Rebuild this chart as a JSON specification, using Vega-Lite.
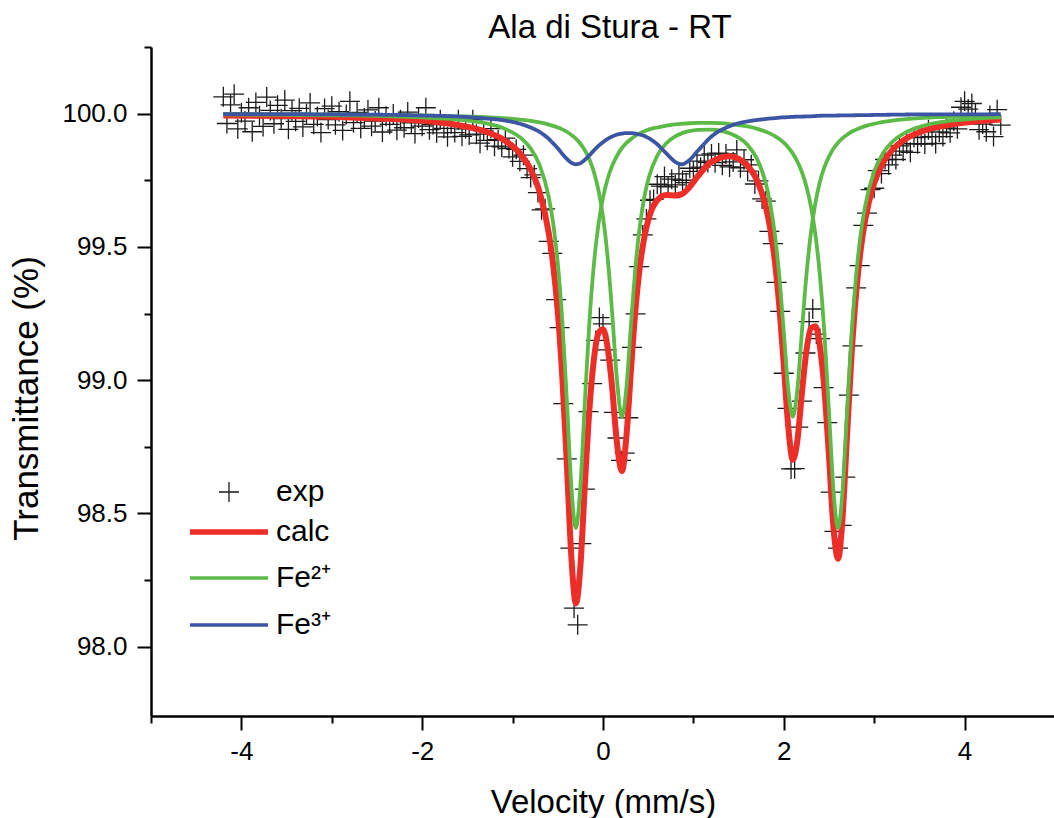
{
"$schema":"https://vega.github.io/schema/vega-lite/v6.json",
"width":904,"height":669,
"autosize":{"type":"none"},
"padding":{"left":151,"top":47,"right":0,"bottom":102},
"background":"white",
"config":{"view":{"stroke":null},"font":"Liberation Sans, Arial, Noto Sans, DejaVu Sans",
 "legend":{"orient":"none","title":null,"padding":0,"labelFontSize":30,"labelColor":"#000","labelFont":"Liberation Sans, Arial, Noto Sans, DejaVu Sans"}},
"title":{"text":"Ala di Stura - RT","fontSize":33,"fontWeight":"normal","color":"#000","anchor":"middle","frame":"group","dx":7,"dy":15,"offset":4,"font":"Liberation Sans, Arial, Noto Sans, DejaVu Sans"},
"datasets":{
"exp":[
{"v":-4.20,"t":100.063,"c":"exp"},{"v":-4.16,"t":99.963,"c":"exp"},{"v":-4.12,"t":100.033,"c":"exp"},{"v":-4.08,"t":100.073,"c":"exp"},{"v":-4.04,"t":99.943,"c":"exp"},{"v":-4.00,"t":100.003,"c":"exp"},{"v":-3.96,"t":99.972,"c":"exp"},{"v":-3.92,"t":100.022,"c":"exp"},{"v":-3.88,"t":99.932,"c":"exp"},{"v":-3.84,"t":100.042,"c":"exp"},
{"v":-3.80,"t":99.992,"c":"exp"},{"v":-3.76,"t":99.952,"c":"exp"},{"v":-3.72,"t":100.062,"c":"exp"},{"v":-3.68,"t":100.012,"c":"exp"},{"v":-3.64,"t":99.962,"c":"exp"},{"v":-3.60,"t":100.031,"c":"exp"},{"v":-3.56,"t":99.981,"c":"exp"},{"v":-3.52,"t":100.051,"c":"exp"},{"v":-3.48,"t":99.941,"c":"exp"},{"v":-3.44,"t":100.011,"c":"exp"},
{"v":-3.40,"t":99.971,"c":"exp"},{"v":-3.36,"t":100.020,"c":"exp"},{"v":-3.32,"t":99.950,"c":"exp"},{"v":-3.28,"t":100.000,"c":"exp"},{"v":-3.24,"t":100.040,"c":"exp"},{"v":-3.20,"t":99.960,"c":"exp"},{"v":-3.16,"t":99.989,"c":"exp"},{"v":-3.12,"t":99.929,"c":"exp"},{"v":-3.08,"t":100.019,"c":"exp"},{"v":-3.04,"t":99.978,"c":"exp"},
{"v":-3.00,"t":100.028,"c":"exp"},{"v":-2.96,"t":99.958,"c":"exp"},{"v":-2.92,"t":100.007,"c":"exp"},{"v":-2.88,"t":99.937,"c":"exp"},{"v":-2.84,"t":99.997,"c":"exp"},{"v":-2.80,"t":100.046,"c":"exp"},{"v":-2.76,"t":99.966,"c":"exp"},{"v":-2.72,"t":100.005,"c":"exp"},{"v":-2.68,"t":99.945,"c":"exp"},{"v":-2.64,"t":99.984,"c":"exp"},
{"v":-2.60,"t":100.014,"c":"exp"},{"v":-2.56,"t":99.953,"c":"exp"},{"v":-2.52,"t":99.972,"c":"exp"},{"v":-2.48,"t":100.022,"c":"exp"},{"v":-2.44,"t":99.931,"c":"exp"},{"v":-2.40,"t":99.990,"c":"exp"},{"v":-2.36,"t":99.960,"c":"exp"},{"v":-2.32,"t":99.999,"c":"exp"},{"v":-2.28,"t":99.938,"c":"exp"},{"v":-2.24,"t":99.977,"c":"exp"},
{"v":-2.20,"t":99.947,"c":"exp"},{"v":-2.16,"t":100.006,"c":"exp"},{"v":-2.12,"t":99.965,"c":"exp"},{"v":-2.08,"t":99.925,"c":"exp"},{"v":-2.04,"t":99.984,"c":"exp"},{"v":-2.00,"t":99.953,"c":"exp"},{"v":-1.96,"t":100.022,"c":"exp"},{"v":-1.92,"t":99.940,"c":"exp"},{"v":-1.88,"t":99.959,"c":"exp"},{"v":-1.84,"t":99.928,"c":"exp"},
{"v":-1.80,"t":99.977,"c":"exp"},{"v":-1.76,"t":99.945,"c":"exp"},{"v":-1.72,"t":99.913,"c":"exp"},{"v":-1.68,"t":99.961,"c":"exp"},{"v":-1.64,"t":99.929,"c":"exp"},{"v":-1.60,"t":99.977,"c":"exp"},{"v":-1.56,"t":99.915,"c":"exp"},{"v":-1.52,"t":99.943,"c":"exp"},{"v":-1.48,"t":99.920,"c":"exp"},{"v":-1.44,"t":99.977,"c":"exp"},
{"v":-1.40,"t":99.923,"c":"exp"},{"v":-1.36,"t":99.889,"c":"exp"},{"v":-1.32,"t":99.935,"c":"exp"},{"v":-1.28,"t":99.900,"c":"exp"},{"v":-1.24,"t":99.944,"c":"exp"},{"v":-1.20,"t":99.878,"c":"exp"},{"v":-1.16,"t":99.902,"c":"exp"},{"v":-1.12,"t":99.875,"c":"exp"},{"v":-1.08,"t":99.908,"c":"exp"},{"v":-1.04,"t":99.869,"c":"exp"},
{"v":-1.00,"t":99.838,"c":"exp"},{"v":-0.96,"t":99.866,"c":"exp"},{"v":-0.92,"t":99.821,"c":"exp"},{"v":-0.88,"t":99.844,"c":"exp"},{"v":-0.84,"t":99.794,"c":"exp"},{"v":-0.80,"t":99.760,"c":"exp"},{"v":-0.76,"t":99.770,"c":"exp"},{"v":-0.72,"t":99.704,"c":"exp"},{"v":-0.68,"t":99.639,"c":"exp"},{"v":-0.64,"t":99.643,"c":"exp"},
{"v":-0.60,"t":99.521,"c":"exp"},{"v":-0.56,"t":99.476,"c":"exp"},{"v":-0.52,"t":99.302,"c":"exp"},{"v":-0.48,"t":99.197,"c":"exp"},{"v":-0.44,"t":98.912,"c":"exp"},{"v":-0.40,"t":98.705,"c":"exp"},{"v":-0.36,"t":98.370,"c":"exp"},{"v":-0.32,"t":98.145,"c":"exp"},{"v":-0.28,"t":98.082,"c":"exp"},{"v":-0.24,"t":98.387,"c":"exp"},
{"v":-0.20,"t":98.591,"c":"exp"},{"v":-0.16,"t":98.882,"c":"exp"},{"v":-0.12,"t":98.987,"c":"exp"},{"v":-0.08,"t":99.149,"c":"exp"},{"v":-0.04,"t":99.235,"c":"exp"},{"v":0.00,"t":99.211,"c":"exp"},{"v":0.04,"t":99.114,"c":"exp"},{"v":0.08,"t":99.075,"c":"exp"},{"v":0.12,"t":98.879,"c":"exp"},{"v":0.16,"t":98.783,"c":"exp"},
{"v":0.20,"t":98.699,"c":"exp"},{"v":0.24,"t":98.726,"c":"exp"},{"v":0.28,"t":98.859,"c":"exp"},{"v":0.32,"t":99.123,"c":"exp"},{"v":0.36,"t":99.249,"c":"exp"},{"v":0.40,"t":99.426,"c":"exp"},{"v":0.44,"t":99.545,"c":"exp"},{"v":0.48,"t":99.605,"c":"exp"},{"v":0.52,"t":99.675,"c":"exp"},{"v":0.56,"t":99.678,"c":"exp"},
{"v":0.60,"t":99.735,"c":"exp"},{"v":0.64,"t":99.728,"c":"exp"},{"v":0.68,"t":99.764,"c":"exp"},{"v":0.72,"t":99.725,"c":"exp"},{"v":0.76,"t":99.754,"c":"exp"},{"v":0.80,"t":99.733,"c":"exp"},{"v":0.84,"t":99.774,"c":"exp"},{"v":0.88,"t":99.750,"c":"exp"},{"v":0.92,"t":99.741,"c":"exp"},{"v":0.96,"t":99.795,"c":"exp"},
{"v":1.00,"t":99.783,"c":"exp"},{"v":1.04,"t":99.822,"c":"exp"},{"v":1.08,"t":99.799,"c":"exp"},{"v":1.12,"t":99.844,"c":"exp"},{"v":1.16,"t":99.817,"c":"exp"},{"v":1.20,"t":99.849,"c":"exp"},{"v":1.24,"t":99.816,"c":"exp"},{"v":1.28,"t":99.852,"c":"exp"},{"v":1.32,"t":99.806,"c":"exp"},{"v":1.36,"t":99.849,"c":"exp"},
{"v":1.40,"t":99.800,"c":"exp"},{"v":1.44,"t":99.819,"c":"exp"},{"v":1.48,"t":99.864,"c":"exp"},{"v":1.52,"t":99.797,"c":"exp"},{"v":1.56,"t":99.827,"c":"exp"},{"v":1.60,"t":99.784,"c":"exp"},{"v":1.64,"t":99.808,"c":"exp"},{"v":1.68,"t":99.736,"c":"exp"},{"v":1.72,"t":99.748,"c":"exp"},{"v":1.76,"t":99.680,"c":"exp"},
{"v":1.80,"t":99.672,"c":"exp"},{"v":1.84,"t":99.558,"c":"exp"},{"v":1.88,"t":99.512,"c":"exp"},{"v":1.92,"t":99.367,"c":"exp"},{"v":1.96,"t":99.258,"c":"exp"},{"v":2.00,"t":99.026,"c":"exp"},{"v":2.04,"t":98.894,"c":"exp"},{"v":2.08,"t":98.667,"c":"exp"},{"v":2.12,"t":98.668,"c":"exp"},{"v":2.16,"t":98.824,"c":"exp"},
{"v":2.20,"t":98.921,"c":"exp"},{"v":2.24,"t":99.102,"c":"exp"},{"v":2.28,"t":99.220,"c":"exp"},{"v":2.32,"t":99.267,"c":"exp"},{"v":2.36,"t":99.173,"c":"exp"},{"v":2.40,"t":99.156,"c":"exp"},{"v":2.44,"t":98.972,"c":"exp"},{"v":2.48,"t":98.841,"c":"exp"},{"v":2.52,"t":98.580,"c":"exp"},{"v":2.56,"t":98.433,"c":"exp"},
{"v":2.60,"t":98.370,"c":"exp"},{"v":2.64,"t":98.455,"c":"exp"},{"v":2.68,"t":98.636,"c":"exp"},{"v":2.72,"t":98.944,"c":"exp"},{"v":2.76,"t":99.129,"c":"exp"},{"v":2.80,"t":99.346,"c":"exp"},{"v":2.84,"t":99.430,"c":"exp"},{"v":2.88,"t":99.581,"c":"exp"},{"v":2.92,"t":99.627,"c":"exp"},{"v":2.96,"t":99.715,"c":"exp"},
{"v":3.00,"t":99.720,"c":"exp"},{"v":3.04,"t":99.786,"c":"exp"},{"v":3.08,"t":99.775,"c":"exp"},{"v":3.12,"t":99.828,"c":"exp"},{"v":3.16,"t":99.808,"c":"exp"},{"v":3.20,"t":99.844,"c":"exp"},{"v":3.24,"t":99.828,"c":"exp"},{"v":3.28,"t":99.879,"c":"exp"},{"v":3.32,"t":99.859,"c":"exp"},{"v":3.36,"t":99.887,"c":"exp"},
{"v":3.40,"t":99.855,"c":"exp"},{"v":3.44,"t":99.910,"c":"exp"},{"v":3.48,"t":99.887,"c":"exp"},{"v":3.52,"t":99.912,"c":"exp"},{"v":3.56,"t":99.886,"c":"exp"},{"v":3.60,"t":99.940,"c":"exp"},{"v":3.64,"t":99.914,"c":"exp"},{"v":3.68,"t":99.888,"c":"exp"},{"v":3.72,"t":99.931,"c":"exp"},{"v":3.76,"t":99.914,"c":"exp"},
{"v":3.80,"t":99.946,"c":"exp"},{"v":3.84,"t":99.928,"c":"exp"},{"v":3.88,"t":99.971,"c":"exp"},{"v":3.92,"t":99.943,"c":"exp"},{"v":3.96,"t":100.024,"c":"exp"},{"v":4.00,"t":100.046,"c":"exp"},{"v":4.04,"t":100.017,"c":"exp"},{"v":4.08,"t":100.038,"c":"exp"},{"v":4.12,"t":99.999,"c":"exp"},{"v":4.16,"t":99.940,"c":"exp"},
{"v":4.20,"t":99.961,"c":"exp"},{"v":4.24,"t":99.932,"c":"exp"},{"v":4.28,"t":99.993,"c":"exp"},{"v":4.32,"t":99.914,"c":"exp"},{"v":4.36,"t":100.015,"c":"exp"},{"v":4.40,"t":99.957,"c":"exp"}
],
"calc":[
{"v":-4.2,"t":99.993,"c":"calc"},{"v":-3.5,"t":99.991,"c":"calc"},{"v":-3.0,"t":99.988,"c":"calc"},{"v":-2.5,"t":99.982,"c":"calc"},{"v":-2.0,"t":99.973,"c":"calc"},{"v":-1.6,"t":99.957,"c":"calc"},{"v":-1.3,"t":99.933,"c":"calc"},{"v":-1.1,"t":99.902,"c":"calc"},{"v":-0.9,"t":99.843,"c":"calc"},{"v":-0.8,"t":99.790,"c":"calc"},
{"v":-0.7,"t":99.704,"c":"calc"},{"v":-0.6,"t":99.551,"c":"calc"},{"v":-0.55,"t":99.429,"c":"calc"},{"v":-0.5,"t":99.256,"c":"calc"},{"v":-0.45,"t":99.011,"c":"calc"},{"v":-0.4,"t":98.685,"c":"calc"},{"v":-0.35,"t":98.337,"c":"calc"},{"v":-0.3,"t":98.162,"c":"calc"},{"v":-0.25,"t":98.302,"c":"calc"},{"v":-0.2,"t":98.611,"c":"calc"},
{"v":-0.15,"t":98.892,"c":"calc"},{"v":-0.1,"t":99.080,"c":"calc"},{"v":-0.05,"t":99.176,"c":"calc"},{"v":0.0,"t":99.191,"c":"calc"},{"v":0.05,"t":99.125,"c":"calc"},{"v":0.1,"t":98.977,"c":"calc"},{"v":0.15,"t":98.779,"c":"calc"},{"v":0.21,"t":98.659,"c":"calc"},{"v":0.26,"t":98.793,"c":"calc"},{"v":0.31,"t":99.042,"c":"calc"},
{"v":0.36,"t":99.269,"c":"calc"},{"v":0.41,"t":99.432,"c":"calc"},{"v":0.46,"t":99.541,"c":"calc"},{"v":0.51,"t":99.612,"c":"calc"},{"v":0.6,"t":99.675,"c":"calc"},{"v":0.7,"t":99.695,"c":"calc"},{"v":0.8,"t":99.693,"c":"calc"},{"v":0.87,"t":99.698,"c":"calc"},{"v":0.95,"t":99.721,"c":"calc"},{"v":1.05,"t":99.766,"c":"calc"},
{"v":1.2,"t":99.819,"c":"calc"},{"v":1.4,"t":99.840,"c":"calc"},{"v":1.6,"t":99.804,"c":"calc"},{"v":1.7,"t":99.753,"c":"calc"},{"v":1.8,"t":99.652,"c":"calc"},{"v":1.85,"t":99.569,"c":"calc"},{"v":1.9,"t":99.449,"c":"calc"},{"v":1.95,"t":99.279,"c":"calc"},{"v":2.0,"t":99.056,"c":"calc"},{"v":2.05,"t":98.823,"c":"calc"},
{"v":2.1,"t":98.701,"c":"calc"},{"v":2.15,"t":98.773,"c":"calc"},{"v":2.2,"t":98.951,"c":"calc"},{"v":2.25,"t":99.109,"c":"calc"},{"v":2.3,"t":99.195,"c":"calc"},{"v":2.35,"t":99.202,"c":"calc"},{"v":2.4,"t":99.126,"c":"calc"},{"v":2.45,"t":98.962,"c":"calc"},{"v":2.5,"t":98.713,"c":"calc"},{"v":2.55,"t":98.445,"c":"calc"},
{"v":2.6,"t":98.330,"c":"calc"},{"v":2.65,"t":98.485,"c":"calc"},{"v":2.7,"t":98.796,"c":"calc"},{"v":2.75,"t":99.097,"c":"calc"},{"v":2.8,"t":99.326,"c":"calc"},{"v":2.85,"t":99.488,"c":"calc"},{"v":2.9,"t":99.601,"c":"calc"},{"v":3.0,"t":99.740,"c":"calc"},{"v":3.1,"t":99.817,"c":"calc"},{"v":3.2,"t":99.864,"c":"calc"},
{"v":3.35,"t":99.906,"c":"calc"},{"v":3.5,"t":99.930,"c":"calc"},{"v":3.7,"t":99.950,"c":"calc"},{"v":3.9,"t":99.962,"c":"calc"},{"v":4.15,"t":99.971,"c":"calc"},{"v":4.4,"t":99.978,"c":"calc"}
],
"fe2":[
{"v":-4.2,"t":99.997,"s":"A","c":"Fe²⁺"},{"v":-3.5,"t":99.996,"s":"A","c":"Fe²⁺"},{"v":-3.0,"t":99.994,"s":"A","c":"Fe²⁺"},{"v":-2.5,"t":99.992,"s":"A","c":"Fe²⁺"},{"v":-2.0,"t":99.986,"s":"A","c":"Fe²⁺"},{"v":-1.6,"t":99.978,"s":"A","c":"Fe²⁺"},{"v":-1.3,"t":99.964,"s":"A","c":"Fe²⁺"},{"v":-1.1,"t":99.945,"s":"A","c":"Fe²⁺"},{"v":-0.9,"t":99.906,"s":"A","c":"Fe²⁺"},{"v":-0.8,"t":99.869,"s":"A","c":"Fe²⁺"},
{"v":-0.7,"t":99.806,"s":"A","c":"Fe²⁺"},{"v":-0.6,"t":99.687,"s":"A","c":"Fe²⁺"},{"v":-0.55,"t":99.586,"s":"A","c":"Fe²⁺"},{"v":-0.5,"t":99.438,"s":"A","c":"Fe²⁺"},{"v":-0.45,"t":99.221,"s":"A","c":"Fe²⁺"},{"v":-0.4,"t":98.923,"s":"A","c":"Fe²⁺"},{"v":-0.35,"t":98.601,"s":"A","c":"Fe²⁺"},{"v":-0.3,"t":98.446,"s":"A","c":"Fe²⁺"},{"v":-0.25,"t":98.601,"s":"A","c":"Fe²⁺"},{"v":-0.2,"t":98.923,"s":"A","c":"Fe²⁺"},
{"v":-0.15,"t":99.220,"s":"A","c":"Fe²⁺"},{"v":-0.1,"t":99.437,"s":"A","c":"Fe²⁺"},{"v":-0.05,"t":99.585,"s":"A","c":"Fe²⁺"},{"v":0.0,"t":99.685,"s":"A","c":"Fe²⁺"},{"v":0.05,"t":99.754,"s":"A","c":"Fe²⁺"},{"v":0.1,"t":99.803,"s":"A","c":"Fe²⁺"},{"v":0.15,"t":99.839,"s":"A","c":"Fe²⁺"},{"v":0.21,"t":99.871,"s":"A","c":"Fe²⁺"},{"v":0.26,"t":99.890,"s":"A","c":"Fe²⁺"},{"v":0.31,"t":99.905,"s":"A","c":"Fe²⁺"},
{"v":0.36,"t":99.917,"s":"A","c":"Fe²⁺"},{"v":0.41,"t":99.927,"s":"A","c":"Fe²⁺"},{"v":0.46,"t":99.934,"s":"A","c":"Fe²⁺"},{"v":0.51,"t":99.941,"s":"A","c":"Fe²⁺"},{"v":0.6,"t":99.948,"s":"A","c":"Fe²⁺"},{"v":0.7,"t":99.955,"s":"A","c":"Fe²⁺"},{"v":0.8,"t":99.960,"s":"A","c":"Fe²⁺"},{"v":0.87,"t":99.962,"s":"A","c":"Fe²⁺"},{"v":0.95,"t":99.964,"s":"A","c":"Fe²⁺"},{"v":1.05,"t":99.965,"s":"A","c":"Fe²⁺"},
{"v":1.2,"t":99.965,"s":"A","c":"Fe²⁺"},{"v":1.4,"t":99.961,"s":"A","c":"Fe²⁺"},{"v":1.6,"t":99.952,"s":"A","c":"Fe²⁺"},{"v":1.7,"t":99.944,"s":"A","c":"Fe²⁺"},{"v":1.8,"t":99.932,"s":"A","c":"Fe²⁺"},{"v":1.85,"t":99.925,"s":"A","c":"Fe²⁺"},{"v":1.9,"t":99.916,"s":"A","c":"Fe²⁺"},{"v":1.95,"t":99.905,"s":"A","c":"Fe²⁺"},{"v":2.0,"t":99.891,"s":"A","c":"Fe²⁺"},{"v":2.05,"t":99.873,"s":"A","c":"Fe²⁺"},
{"v":2.1,"t":99.850,"s":"A","c":"Fe²⁺"},{"v":2.15,"t":99.820,"s":"A","c":"Fe²⁺"},{"v":2.2,"t":99.781,"s":"A","c":"Fe²⁺"},{"v":2.25,"t":99.727,"s":"A","c":"Fe²⁺"},{"v":2.3,"t":99.652,"s":"A","c":"Fe²⁺"},{"v":2.35,"t":99.545,"s":"A","c":"Fe²⁺"},{"v":2.4,"t":99.390,"s":"A","c":"Fe²⁺"},{"v":2.45,"t":99.171,"s":"A","c":"Fe²⁺"},{"v":2.5,"t":98.881,"s":"A","c":"Fe²⁺"},{"v":2.55,"t":98.584,"s":"A","c":"Fe²⁺"},
{"v":2.6,"t":98.446,"s":"A","c":"Fe²⁺"},{"v":2.65,"t":98.584,"s":"A","c":"Fe²⁺"},{"v":2.7,"t":98.882,"s":"A","c":"Fe²⁺"},{"v":2.75,"t":99.171,"s":"A","c":"Fe²⁺"},{"v":2.8,"t":99.392,"s":"A","c":"Fe²⁺"},{"v":2.85,"t":99.546,"s":"A","c":"Fe²⁺"},{"v":2.9,"t":99.653,"s":"A","c":"Fe²⁺"},{"v":3.0,"t":99.783,"s":"A","c":"Fe²⁺"},{"v":3.1,"t":99.853,"s":"A","c":"Fe²⁺"},{"v":3.2,"t":99.894,"s":"A","c":"Fe²⁺"},
{"v":3.35,"t":99.930,"s":"A","c":"Fe²⁺"},{"v":3.5,"t":99.950,"s":"A","c":"Fe²⁺"},{"v":3.7,"t":99.966,"s":"A","c":"Fe²⁺"},{"v":3.9,"t":99.975,"s":"A","c":"Fe²⁺"},{"v":4.15,"t":99.982,"s":"A","c":"Fe²⁺"},{"v":4.4,"t":99.986,"s":"A","c":"Fe²⁺"},
{"v":-4.2,"t":99.998,"s":"B","c":"Fe²⁺"},{"v":-3.5,"t":99.997,"s":"B","c":"Fe²⁺"},{"v":-3.0,"t":99.997,"s":"B","c":"Fe²⁺"},{"v":-2.5,"t":99.995,"s":"B","c":"Fe²⁺"},{"v":-2.0,"t":99.993,"s":"B","c":"Fe²⁺"},{"v":-1.6,"t":99.990,"s":"B","c":"Fe²⁺"},{"v":-1.3,"t":99.987,"s":"B","c":"Fe²⁺"},{"v":-1.1,"t":99.983,"s":"B","c":"Fe²⁺"},{"v":-0.9,"t":99.977,"s":"B","c":"Fe²⁺"},{"v":-0.8,"t":99.973,"s":"B","c":"Fe²⁺"},
{"v":-0.7,"t":99.967,"s":"B","c":"Fe²⁺"},{"v":-0.6,"t":99.959,"s":"B","c":"Fe²⁺"},{"v":-0.55,"t":99.954,"s":"B","c":"Fe²⁺"},{"v":-0.5,"t":99.948,"s":"B","c":"Fe²⁺"},{"v":-0.45,"t":99.941,"s":"B","c":"Fe²⁺"},{"v":-0.4,"t":99.932,"s":"B","c":"Fe²⁺"},{"v":-0.35,"t":99.920,"s":"B","c":"Fe²⁺"},{"v":-0.3,"t":99.906,"s":"B","c":"Fe²⁺"},{"v":-0.25,"t":99.887,"s":"B","c":"Fe²⁺"},{"v":-0.2,"t":99.862,"s":"B","c":"Fe²⁺"},
{"v":-0.15,"t":99.828,"s":"B","c":"Fe²⁺"},{"v":-0.1,"t":99.780,"s":"B","c":"Fe²⁺"},{"v":-0.05,"t":99.712,"s":"B","c":"Fe²⁺"},{"v":0.0,"t":99.613,"s":"B","c":"Fe²⁺"},{"v":0.05,"t":99.465,"s":"B","c":"Fe²⁺"},{"v":0.1,"t":99.259,"s":"B","c":"Fe²⁺"},{"v":0.15,"t":99.019,"s":"B","c":"Fe²⁺"},{"v":0.21,"t":98.863,"s":"B","c":"Fe²⁺"},{"v":0.26,"t":98.976,"s":"B","c":"Fe²⁺"},{"v":0.31,"t":99.210,"s":"B","c":"Fe²⁺"},
{"v":0.36,"t":99.427,"s":"B","c":"Fe²⁺"},{"v":0.41,"t":99.584,"s":"B","c":"Fe²⁺"},{"v":0.46,"t":99.692,"s":"B","c":"Fe²⁺"},{"v":0.51,"t":99.764,"s":"B","c":"Fe²⁺"},{"v":0.6,"t":99.842,"s":"B","c":"Fe²⁺"},{"v":0.7,"t":99.889,"s":"B","c":"Fe²⁺"},{"v":0.8,"t":99.915,"s":"B","c":"Fe²⁺"},{"v":0.87,"t":99.926,"s":"B","c":"Fe²⁺"},{"v":0.95,"t":99.934,"s":"B","c":"Fe²⁺"},{"v":1.05,"t":99.939,"s":"B","c":"Fe²⁺"},
{"v":1.2,"t":99.940,"s":"B","c":"Fe²⁺"},{"v":1.4,"t":99.926,"s":"B","c":"Fe²⁺"},{"v":1.6,"t":99.882,"s":"B","c":"Fe²⁺"},{"v":1.7,"t":99.833,"s":"B","c":"Fe²⁺"},{"v":1.8,"t":99.740,"s":"B","c":"Fe²⁺"},{"v":1.85,"t":99.662,"s":"B","c":"Fe²⁺"},{"v":1.9,"t":99.550,"s":"B","c":"Fe²⁺"},{"v":1.95,"t":99.390,"s":"B","c":"Fe²⁺"},{"v":2.0,"t":99.180,"s":"B","c":"Fe²⁺"},{"v":2.05,"t":98.963,"s":"B","c":"Fe²⁺"},
{"v":2.1,"t":98.863,"s":"B","c":"Fe²⁺"},{"v":2.15,"t":98.964,"s":"B","c":"Fe²⁺"},{"v":2.2,"t":99.181,"s":"B","c":"Fe²⁺"},{"v":2.25,"t":99.393,"s":"B","c":"Fe²⁺"},{"v":2.3,"t":99.553,"s":"B","c":"Fe²⁺"},{"v":2.35,"t":99.666,"s":"B","c":"Fe²⁺"},{"v":2.4,"t":99.745,"s":"B","c":"Fe²⁺"},{"v":2.45,"t":99.800,"s":"B","c":"Fe²⁺"},{"v":2.5,"t":99.839,"s":"B","c":"Fe²⁺"},{"v":2.55,"t":99.869,"s":"B","c":"Fe²⁺"},
{"v":2.6,"t":99.891,"s":"B","c":"Fe²⁺"},{"v":2.65,"t":99.908,"s":"B","c":"Fe²⁺"},{"v":2.7,"t":99.921,"s":"B","c":"Fe²⁺"},{"v":2.75,"t":99.932,"s":"B","c":"Fe²⁺"},{"v":2.8,"t":99.940,"s":"B","c":"Fe²⁺"},{"v":2.85,"t":99.947,"s":"B","c":"Fe²⁺"},{"v":2.9,"t":99.953,"s":"B","c":"Fe²⁺"},{"v":3.0,"t":99.962,"s":"B","c":"Fe²⁺"},{"v":3.1,"t":99.969,"s":"B","c":"Fe²⁺"},{"v":3.2,"t":99.974,"s":"B","c":"Fe²⁺"},
{"v":3.35,"t":99.979,"s":"B","c":"Fe²⁺"},{"v":3.5,"t":99.983,"s":"B","c":"Fe²⁺"},{"v":3.7,"t":99.987,"s":"B","c":"Fe²⁺"},{"v":3.9,"t":99.989,"s":"B","c":"Fe²⁺"},{"v":4.15,"t":99.992,"s":"B","c":"Fe²⁺"},{"v":4.4,"t":99.993,"s":"B","c":"Fe²⁺"}
],
"fe3":[
{"v":-4.2,"t":99.998,"c":"Fe³⁺"},{"v":-3.5,"t":99.998,"c":"Fe³⁺"},{"v":-3.0,"t":99.997,"c":"Fe³⁺"},{"v":-2.5,"t":99.996,"c":"Fe³⁺"},{"v":-2.0,"t":99.993,"c":"Fe³⁺"},{"v":-1.6,"t":99.989,"c":"Fe³⁺"},{"v":-1.3,"t":99.982,"c":"Fe³⁺"},{"v":-1.1,"t":99.975,"c":"Fe³⁺"},{"v":-0.9,"t":99.960,"c":"Fe³⁺"},{"v":-0.8,"t":99.948,"c":"Fe³⁺"},
{"v":-0.7,"t":99.931,"c":"Fe³⁺"},{"v":-0.6,"t":99.905,"c":"Fe³⁺"},{"v":-0.55,"t":99.888,"c":"Fe³⁺"},{"v":-0.5,"t":99.870,"c":"Fe³⁺"},{"v":-0.45,"t":99.849,"c":"Fe³⁺"},{"v":-0.4,"t":99.830,"c":"Fe³⁺"},{"v":-0.35,"t":99.816,"c":"Fe³⁺"},{"v":-0.3,"t":99.810,"c":"Fe³⁺"},{"v":-0.25,"t":99.814,"c":"Fe³⁺"},{"v":-0.2,"t":99.827,"c":"Fe³⁺"},
{"v":-0.15,"t":99.844,"c":"Fe³⁺"},{"v":-0.1,"t":99.862,"c":"Fe³⁺"},{"v":-0.05,"t":99.879,"c":"Fe³⁺"},{"v":0.0,"t":99.893,"c":"Fe³⁺"},{"v":0.05,"t":99.905,"c":"Fe³⁺"},{"v":0.1,"t":99.914,"c":"Fe³⁺"},{"v":0.15,"t":99.921,"c":"Fe³⁺"},{"v":0.21,"t":99.925,"c":"Fe³⁺"},{"v":0.26,"t":99.927,"c":"Fe³⁺"},{"v":0.31,"t":99.927,"c":"Fe³⁺"},
{"v":0.36,"t":99.925,"c":"Fe³⁺"},{"v":0.41,"t":99.921,"c":"Fe³⁺"},{"v":0.46,"t":99.916,"c":"Fe³⁺"},{"v":0.51,"t":99.907,"c":"Fe³⁺"},{"v":0.6,"t":99.885,"c":"Fe³⁺"},{"v":0.7,"t":99.851,"c":"Fe³⁺"},{"v":0.8,"t":99.819,"c":"Fe³⁺"},{"v":0.87,"t":99.810,"c":"Fe³⁺"},{"v":0.95,"t":99.824,"c":"Fe³⁺"},{"v":1.05,"t":99.861,"c":"Fe³⁺"},
{"v":1.2,"t":99.914,"c":"Fe³⁺"},{"v":1.4,"t":99.953,"c":"Fe³⁺"},{"v":1.6,"t":99.971,"c":"Fe³⁺"},{"v":1.7,"t":99.976,"c":"Fe³⁺"},{"v":1.8,"t":99.980,"c":"Fe³⁺"},{"v":1.85,"t":99.982,"c":"Fe³⁺"},{"v":1.9,"t":99.983,"c":"Fe³⁺"},{"v":1.95,"t":99.985,"c":"Fe³⁺"},{"v":2.0,"t":99.986,"c":"Fe³⁺"},{"v":2.05,"t":99.987,"c":"Fe³⁺"},
{"v":2.1,"t":99.988,"c":"Fe³⁺"},{"v":2.2,"t":99.989,"c":"Fe³⁺"},{"v":2.3,"t":99.990,"c":"Fe³⁺"},{"v":2.4,"t":99.992,"c":"Fe³⁺"},{"v":2.6,"t":99.993,"c":"Fe³⁺"},{"v":2.8,"t":99.994,"c":"Fe³⁺"},{"v":3.0,"t":99.995,"c":"Fe³⁺"},{"v":3.2,"t":99.996,"c":"Fe³⁺"},{"v":3.5,"t":99.997,"c":"Fe³⁺"},{"v":3.9,"t":99.997,"c":"Fe³⁺"},{"v":4.4,"t":99.998,"c":"Fe³⁺"}
]
},
"layer":[
{"data":{"name":"exp"},
 "mark":{"type":"point","filled":false,"size":400,"strokeWidth":1.3,"opacity":1,"color":"#1a1a1a"},
 "encoding":{
  "x":{"field":"v","type":"quantitative","scale":{"domain":[-5,5],"nice":false,"zero":false},
   "axis":{"title":"Velocity (mm/s)","values":[-5,-4,-3,-2,-1,0,1,2,3,4],"labelExpr":"datum.value % 2 === 0 ? '' + datum.value : ''",
    "tickSize":{"condition":{"test":"datum.value % 2 === 0","value":14},"value":7},
    "tickWidth":2,"tickColor":"#000","domainColor":"#000","domainWidth":2.5,"grid":false,
    "labelFontSize":26,"labelColor":"#000","labelPadding":8,"labelFlush":false,"labelOverlap":false,
    "titleFontSize":33,"titleFontWeight":"normal","titleColor":"#000","titleBaseline":"alphabetic","titleY":96}},
  "y":{"field":"t","type":"quantitative","scale":{"domain":[97.74,100.25],"nice":false,"zero":false},
   "axis":{"title":"Transmittance (%)","values":[98,98.25,98.5,98.75,99,99.25,99.5,99.75,100,100.25],
    "labelExpr":"abs(datum.value*2 - round(datum.value*2)) < 0.001 ? format(datum.value, '.1f') : ''",
    "tickSize":{"condition":{"test":"abs(datum.value*2 - round(datum.value*2)) < 0.001","value":14},"value":7},
    "tickWidth":2,"tickColor":"#000","domainColor":"#000","domainWidth":2.5,"grid":false,
    "labelFontSize":26,"labelColor":"#000","labelPadding":10,"labelOverlap":false,"labelFlush":false,
    "titleFontSize":35,"titleFontWeight":"normal","titleColor":"#000","titleBaseline":"alphabetic","titleX":-114,"titleY":351,"titleAngle":270}},
  "shape":{"field":"c","type":"nominal","scale":{"domain":["exp"],"range":["M-1,0H1M0,-1V1"]},
   "legend":{"legendX":63,"legendY":430,"labelOffset":32,"symbolSize":400,"symbolStrokeWidth":1.3,"symbolStrokeColor":"#1a1a1a"}}
 }},
{"data":{"name":"calc"},
 "mark":{"type":"line","strokeWidth":6,"interpolate":"monotone"},
 "encoding":{"x":{"field":"v","type":"quantitative"},"y":{"field":"t","type":"quantitative"},
  "stroke":{"field":"c","type":"nominal","scale":{"domain":["calc"],"range":["#ed2d27"]},
   "legend":{"legendX":36,"legendY":443,"labelOffset":5,"symbolSize":6084,"symbolStrokeWidth":5.5,"symbolType":"stroke"}}}},
{"data":{"name":"fe2"},
 "mark":{"type":"line","strokeWidth":3.8,"interpolate":"monotone"},
 "encoding":{"x":{"field":"v","type":"quantitative"},"y":{"field":"t","type":"quantitative"},"detail":{"field":"s","type":"nominal"},
  "color":{"field":"c","type":"nominal","scale":{"domain":["Fe²⁺"],"range":["#5cba47"]},
   "legend":{"legendX":37,"legendY":490,"labelOffset":6,"symbolSize":6084,"symbolStrokeWidth":3.5,"symbolType":"stroke"}}}},
{"data":{"name":"fe3"},
 "mark":{"type":"line","strokeWidth":3.8,"interpolate":"monotone","color":"#3b54a3"},
 "encoding":{"x":{"field":"v","type":"quantitative"},"y":{"field":"t","type":"quantitative"},
  "strokeDash":{"field":"c","type":"nominal","scale":{"domain":["Fe³⁺"],"range":[[1,0]]},
   "legend":{"legendX":37,"legendY":537,"labelOffset":6,"symbolSize":6084,"symbolStrokeWidth":3.5,"symbolType":"stroke","symbolStrokeColor":"#3b54a3"}}}}
]
}
